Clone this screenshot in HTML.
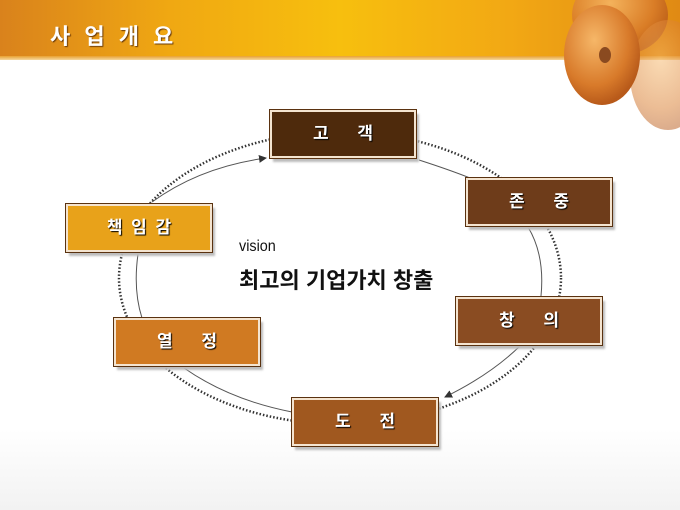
<!DOCTYPE html>
<html><head><meta charset="utf-8"><style>
body{margin:0;width:680px;height:510px;overflow:hidden;background:#fff;position:relative;font-family:"Liberation Sans","Noto Sans CJK KR",sans-serif}
.hdr{position:absolute;left:0;top:0;width:680px;height:60px;background:linear-gradient(90deg,#d9821c 0%,#f0a812 25%,#f7bf0e 50%,#f2a814 75%,#e08a14 100%)}
.hdr:after{content:"";position:absolute;left:0;right:0;bottom:0;height:4px;background:linear-gradient(#e8a030,#f6d8a0)}
.title{position:absolute;left:50px;top:19px;color:#fff;font-weight:bold;font-size:22px;letter-spacing:4px;text-shadow:1px 1px 1px #6a3a08}
.box{position:absolute;width:146px;height:48px;box-sizing:border-box;border:2px solid #f4e4d0;outline:1px solid #5a3210;box-shadow:3px 4px 2px #bcbcbc;color:#fff;font-weight:bold;font-size:17px;text-align:center;line-height:44px;text-shadow:1px 1px 1px #000;word-spacing:24px}
.fl{position:absolute;left:0;bottom:0;width:680px;height:80px;background:linear-gradient(#fff,#f2f2f2)}
</style></head><body>
<div class="fl"></div>
<div class="hdr"></div>
<div class="title">사 업 개 요</div>
<svg width="680" height="510" style="position:absolute;left:0;top:0">
<defs><radialGradient id="b" cx="40%" cy="35%" r="65%"><stop offset="0" stop-color="#f6b768"/><stop offset="0.7" stop-color="#d87a2a"/><stop offset="1" stop-color="#b85a1a"/></radialGradient>
<marker id="a" markerWidth="8" markerHeight="8" refX="7" refY="4" orient="auto"><path d="M0,0 L8,4 L0,8z" fill="#333"/></marker></defs>
<ellipse cx="620" cy="15" rx="48" ry="40" fill="url(#b)" opacity="0.85"/>
<ellipse cx="668" cy="75" rx="38" ry="55" fill="url(#b)" opacity="0.5"/>
<ellipse cx="602" cy="55" rx="38" ry="50" fill="url(#b)"/>
<ellipse cx="605" cy="55" rx="6" ry="8" fill="#8a4a20"/>
<ellipse cx="340" cy="278" rx="221" ry="146" fill="none" stroke="#333" stroke-width="2.5" stroke-dasharray="1.5 2"/>
<g fill="none" stroke="#555" stroke-width="1">
<path d="M419,160 Q450,170 470,178"/>
<path d="M528,227 Q545,255 541,296"/>
<path d="M138,254 Q133,290 142,318"/>
<path d="M184,368 Q230,400 292,412"/>
<path d="M152,202 Q200,167 266,158" marker-end="url(#a)"/>
<path d="M520,346 Q490,375 445,397" marker-end="url(#a)"/>
</g>
</svg>
<div class="box" style="left:270px;top:110px;background:#4e2a0c">고 객</div>
<div class="box" style="left:466px;top:178px;background:#6e3c1a">존 중</div>
<div class="box" style="left:456px;top:297px;background:#8a4c22">창 의</div>
<div class="box" style="left:292px;top:398px;background:#a0581f">도 전</div>
<div class="box" style="left:114px;top:318px;background:#d07a22">열 정</div>
<div class="box" style="left:66px;top:204px;background:#e8a21a;word-spacing:4px">책 임 감</div>
<div style="position:absolute;left:239px;top:238px;font-size:16px;color:#111;transform:scaleX(0.9);transform-origin:left">vision</div>
<div style="position:absolute;left:239px;top:263px;font-size:22px;font-weight:bold;color:#111">최고의 기업가치 창출</div>
</body></html>
